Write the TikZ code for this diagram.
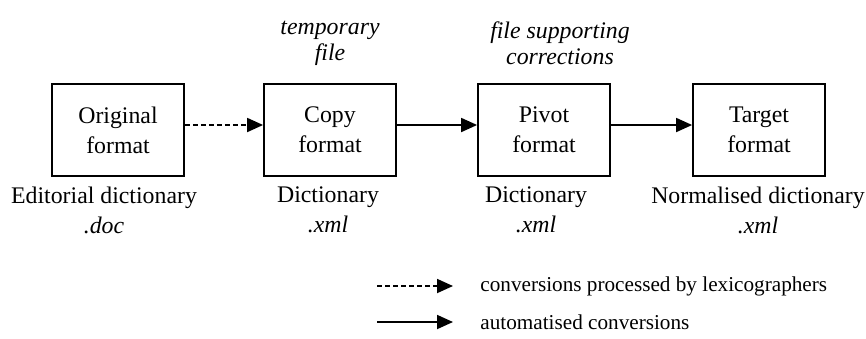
\documentclass[tikz,border=0pt]{standalone}
\usepackage{fontspec}
\setmainfont{Liberation Serif}
\usetikzlibrary{arrows.meta}
\usetikzlibrary{positioning}

\begin{document}
\begin{tikzpicture}[x=0.5pt, y=-0.5pt,
	every node/.style={font=\fontsize{11.9}{15}\selectfont, align=center, inner sep=0pt},
	fmtbox/.style={draw, line width=0.9pt, minimum width=66pt, minimum height=46pt},
	conv/.style={line width=0.9pt, -{Triangle[length=8pt, width=7pt]}},
	manual/.style={conv, dash pattern=on 2.5pt off 1.5pt},
	note/.style={font=\fontsize{11.9}{13}\selectfont\itshape},
	legend/.style={anchor=west, font=\fontsize{10.6}{13}\selectfont}]
	\useasboundingbox (0,0) rectangle (866,338);
	% format boxes
	\foreach \x/\nName/\nTxt in {118/orig/Original, 330/copy/Copy, 544/pivot/Pivot, 759/target/Target}
	{
		\node[fmtbox](\nName) at (\x,130){\nTxt\\format};
	}
	% dictionaries below the boxes
	\foreach \x/\nName/\nTop/\nExt in {104/origDict/Editorial dictionary/.doc, 328/copyDict/Dictionary/.xml, 536/pivotDict/Dictionary/.xml, 758/targetDict/Normalised dictionary/.xml}
	{
		\node(\nName) at (\x,210){\nTop\\\textit{\nExt}};
	}
	\node[note](copyNote) at (330,43){temporary\\file};
	\node[note](pivotNote) at (560,43){file supporting\\corrections};
	% conversions
	\draw[manual] ([yshift=2.5pt]orig.east) -- ([yshift=2.5pt]copy.west);
	\draw[conv] ([yshift=2.5pt]copy.east) -- ([yshift=2.5pt]pivot.west);
	\draw[conv] ([yshift=2.5pt]pivot.east) -- ([yshift=2.5pt]target.west);
	% legend
	\coordinate(manualA) at (377,286);
	\coordinate(manualB) at (453,286);
	\coordinate(autoA) at (377,322);
	\coordinate(autoB) at (453,322);
	\draw[manual] (manualA) -- (manualB);
	\draw[conv] (autoA) -- (autoB);
	\node[legend](manualTxt) at (480,286){conversions processed by lexicographers};
	\node[legend](autoTxt) at (480,322){automatised conversions};
\end{tikzpicture}
\end{document}
